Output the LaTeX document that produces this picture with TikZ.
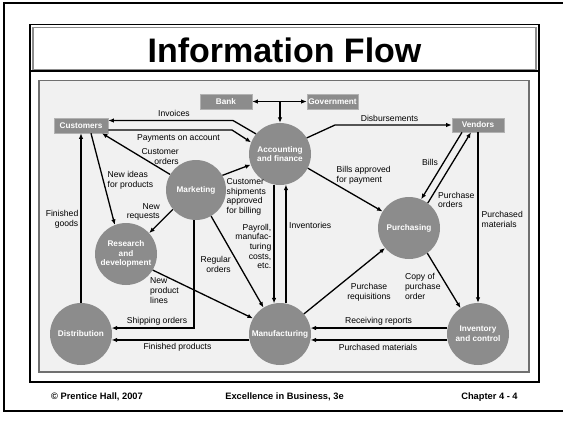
\documentclass[tikz,border=0pt]{standalone}
\usepackage{fontspec}
\setmainfont{Liberation Sans}
\usetikzlibrary{arrows.meta,calc}
\definecolor{nodegray}{HTML}{8C8C8C}
\definecolor{bggray}{HTML}{F1F1F1}
\definecolor{framegray}{HTML}{707070}
\begin{document}
\begin{tikzpicture}[x=1pt,y=-1pt,
  >={Latex[length=5.5pt,width=4.5pt]},
  circ/.style={circle, fill=nodegray, minimum size=62pt, inner sep=0pt, text=white,
    font=\fontsize{8.2}{9.6}\selectfont\bfseries, align=center},
  boxn/.style={rectangle, fill=nodegray, draw=gray!60, line width=0.6pt, inner sep=0pt, text=white,
    font=\fontsize{8.2}{9.6}\selectfont\bfseries, minimum height=15pt},
  lbl/.style={font=\fontsize{8.6}{9.7}\selectfont, inner sep=0pt, text=black},
  flow/.style={draw=black, line width=1.3pt, ->},
  foot/.style={font=\fontsize{9.3}{10}\selectfont\bfseries, inner sep=0pt, anchor=base}]
\useasboundingbox (0,0) rectangle (563,424);
\fill[white] (0,0) rectangle (563,424);
% slide frame
\draw[line width=2pt] (563,3) -- (4,3) -- (4,411) -- (563,411);
% title and content frame
\draw[line width=1.5pt] (30,24.5) rectangle (539,382);
\draw[line width=1.5pt] (30,71) -- (539,71);
\draw[framegray!80, line width=1.2pt] (33,27.3) rectangle (536,69.8);
\node[font=\fontsize{34}{34}\selectfont\bfseries, inner sep=0pt] (title) at (284.5,50) {Information Flow};
% diagram panel
\draw[fill=bggray, draw=framegray, line width=1.8pt] (38.8,80.5) rectangle (529,372);
% nodes
\node[boxn, minimum width=52pt] (bank) at (226,101.5) {Bank};
\node[boxn, minimum width=51pt] (gov) at (332.5,101.5) {Government};
\node[boxn, minimum width=54pt] (cust) at (81,125.5) {Customers};
\node[boxn, minimum width=52pt, minimum height=14pt] (vend) at (478,125) {Vendors};
\node[circ] (acc) at (280,154) {Accounting\\and finance};
\node[circ, minimum size=60pt] (mkt) at (196,190) {Marketing};
\node[circ] (rd) at (126,254) {Research\\and\\development};
\node[circ] (pur) at (409,228) {Purchasing};
\node[circ] (dist) at (81,334) {Distribution};
\node[circ] (mfg) at (280,334) {Manufacturing};
\node[circ] (inv) at (478,334) {Inventory\\and control};
% connectors
\draw[flow,<->] (bank.east) -- (gov.west);
\draw[flow] (acc.north |- bank.east) -- (acc.north);
\coordinate (invbend) at (233,120.5);
\coordinate (paybend) at (232,130);
\coordinate (disbend) at (335,125);
\draw[flow] (acc.140) -- (invbend) -- ([yshift=5pt]cust.east);
\draw[flow] ([yshift=-4.5pt]cust.east) -- (paybend) -- (acc.158);
\draw[flow] (mkt.149) -- ([xshift=21pt]cust.south);
\draw[flow] ([xshift=10pt]cust.south) -- (rd.111);
\draw[flow] (dist.north) -- (cust.south);
\draw[flow] (mkt.220) -- (rd.42);
\draw[flow] (mkt.29) -- (acc.200);
\draw[flow] ([xshift=-2pt]mkt.south) |- (dist.11);
\draw[flow] (mfg.191) -- (dist.349);
\draw[flow] (mkt.-60) -- (mfg.122);
\draw[flow] (rd.-31) -- (mfg.150);
\draw[flow] (acc.259) -- (mfg.101);
\draw[flow] (mfg.79) -- (acc.281);
\draw[flow] (acc.31) -- (disbend) -- (vend.west);
\draw[flow] (acc.-27) -- (pur.148);
\draw[flow] ([xshift=-16pt]vend.south) -- (pur.67);
\draw[flow] (pur.53) -- ([xshift=-7pt]vend.south);
\draw[flow] (vend.south) -- (inv.north);
\draw[flow] (mfg.40) -- (pur.220);
\draw[flow] (pur.-54) -- (inv.124);
\draw[flow] (inv.169) -- (mfg.11);
\draw[flow] (inv.191) -- (mfg.-11);
% labels
\node[lbl] (t1) at (174,113) {Invoices};
\node[lbl] (t2) at (178.5,138) {Payments on account};
\node[lbl, align=right, anchor=east] (t3) at (179,156.5) {Customer\\orders};
\node[lbl, align=left, anchor=west] (t4) at (107.5,180.5) {New ideas\\for products};
\node[lbl, align=right, anchor=east] (t5) at (78.5,219.5) {Finished\\goods};
\node[lbl, align=right, anchor=east] (t6) at (160,212) {New\\requests};
\node[lbl, align=left, anchor=west] (t7) at (226.5,197) {Customer\\shipments\\approved\\for billing};
\node[lbl, align=right, anchor=east] (t8) at (231,264.5) {Regular\\orders};
\node[lbl, align=right, anchor=east] (t9) at (271.5,246.5) {Payroll,\\manufac-\\turing\\costs,\\etc.};
\node[lbl, anchor=west] (t10) at (289,225) {Inventories};
\node[lbl] (t11) at (389.5,118) {Disbursements};
\node[lbl, align=left, anchor=west] (t12) at (336.5,175) {Bills approved\\for payment};
\node[lbl] (t13) at (430,162) {Bills};
\node[lbl, align=left, anchor=west] (t14) at (438,200) {Purchase\\orders};
\node[lbl, align=left, anchor=west] (t15) at (481.5,219.5) {Purchased\\materials};
\node[lbl, align=center] (t16) at (369,292) {Purchase\\requisitions};
\node[lbl, align=left, anchor=west] (t17) at (405,286.5) {Copy of\\purchase\\order};
\node[lbl] (t18) at (378.5,321) {Receiving reports};
\node[lbl] (t19) at (378,347) {Purchased materials};
\node[lbl] (t20) at (157,321) {Shipping orders};
\node[lbl] (t21) at (177.5,347) {Finished products};
\node[lbl, align=left, anchor=west] (t22) at (150,290.5) {New\\product\\lines};
% footer
\node[foot] (f1) at (97,399.3) {© Prentice Hall, 2007};
\node[foot] (f2) at (284.5,399.3) {Excellence in Business, 3e};
\node[foot] (f3) at (489.5,399.3) {Chapter 4 - 4};
\end{tikzpicture}
\end{document}
